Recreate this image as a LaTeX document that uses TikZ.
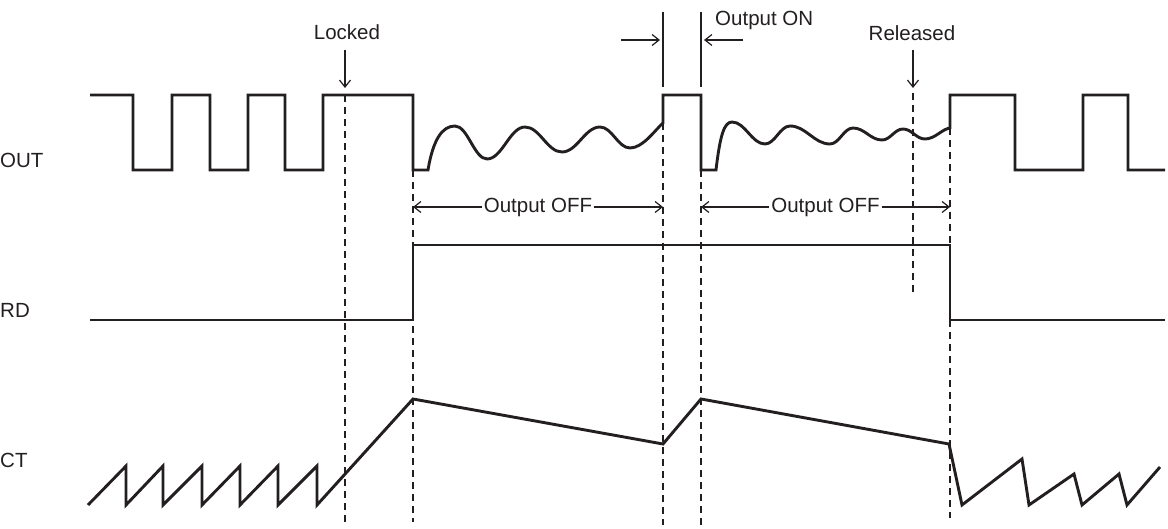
\documentclass[tikz,border=0pt]{standalone}
\usepackage{fontspec}
\setmainfont{Liberation Sans}
\usetikzlibrary{arrows.meta}
\definecolor{ink}{HTML}{231F20}
\begin{document}
\begin{tikzpicture}[x=1pt,y=-1pt,
  wave/.style={draw=ink,line width=2.9pt,line join=miter},
  thin/.style={draw=ink,line width=1.2pt},
  guide/.style={draw=ink,line width=1.3pt,dash pattern=on 7pt off 5pt},
  tip/.style={-{Straight Barb[length=7pt,width=11pt,line width=1.2pt]}},
  lbl/.style={text=ink,inner sep=0pt,font=\fontsize{20.5}{24}\selectfont},
  gaplbl/.style={lbl,fill=white,inner xsep=2pt,inner ysep=3pt}]
\useasboundingbox (0,0) rectangle (1168,529);
% signal names
\node[lbl,anchor=base west] (out) at (0,167.5) {OUT};
\node[lbl,anchor=base west] (rd) at (0,317.5) {RD};
\node[lbl,anchor=base west] (ct) at (0,467.5) {CT};
% dashed guides
\coordinate (g1t) at (345,95);  \coordinate (g1b) at (345,522);
\coordinate (g2t) at (413,170); \coordinate (g2b) at (413,522);
\coordinate (g3t) at (663,123); \coordinate (g3b) at (663,525);
\coordinate (g4t) at (701,170); \coordinate (g4b) at (701,525);
\coordinate (g5t) at (950,128); \coordinate (g5b) at (950,518);
\coordinate (g6t) at (913,93);  \coordinate (g6b) at (913,293);
\draw[guide] (g1t) -- (g1b);
\draw[guide] (g2t) -- (g2b);
\draw[guide] (g3t) -- (g3b);
\draw[guide] (g4t) -- (g4b);
\draw[guide] (g5t) -- (g5b);
\draw[guide] (g6t) -- (g6b);
% OUT waveform
\draw[wave] (90,95)--(133,95)--(133,170)--(172,170)--(172,95)--(210,95)--(210,170)
  --(248,170)--(248,95)--(285,95)--(285,170)--(323,170)--(323,95)--(413,95)--(413,170)--(428,170)
  .. controls (433,140) and (442,126) .. (455,126)
  .. controls (467.8,126) and (474.2,159) .. (487,159)
  .. controls (502.2,159) and (509.8,127) .. (525,127)
  .. controls (539.8,127) and (547.2,152) .. (562,152)
  .. controls (577.2,152) and (584.8,127) .. (600,127)
  .. controls (612,127) and (618,148) .. (630,148)
  .. controls (643,148) and (655,130) .. (663,123)
  --(663,95)--(701,95)--(701,170)--(716,170)
  .. controls (720,136) and (724,122) .. (732,122)
  .. controls (745.2,122) and (751.8,144) .. (765,144)
  .. controls (775,144) and (780,126) .. (790,126)
  .. controls (806,126) and (814,144) .. (830,144)
  .. controls (839.2,144) and (843.8,128) .. (853,128)
  .. controls (864.6,128) and (870.4,140) .. (882,140)
  .. controls (890.4,140) and (894.6,129) .. (903,129)
  .. controls (911.8,129) and (916.2,139) .. (925,139)
  .. controls (935,139) and (942,129) .. (950,128)
  --(950,95)--(1015,95)--(1015,170)--(1083,170)--(1083,95)--(1128,95)--(1128,170)--(1165,170);
% RD waveform
\draw[wave] (90,320)--(413,320)--(413,245)--(950,245)--(950,320)--(1165,320);
% CT waveform
\draw[wave] (88,505)--(126,466)--(126,505)--(163,466)--(163,505)--(202,466)--(202,505)
  --(240,466)--(240,505)--(278,466)--(278,505)--(317,466)--(317,505)--(413,399)--(663,444)
  --(701,399)--(949,444)--(962,505)--(1022,459)--(1029,505)--(1074,474)--(1082,505)
  --(1119,474)--(1127,505)--(1160,467);
% Locked
\node[lbl,anchor=base] (locked) at (347,39.5) {Locked};
\coordinate (la) at (345,50); \coordinate (lb) at (345,88);
\draw[thin,tip] (la) -- (lb);
% Released
\node[lbl,anchor=base] (released) at (912,40.5) {Released};
\coordinate (ra) at (913,50); \coordinate (rb) at (913,88);
\draw[thin,tip] (ra) -- (rb);
% Output ON
\coordinate (e1t) at (663,12); \coordinate (e1b) at (663,87);
\coordinate (e2t) at (701,12); \coordinate (e2b) at (701,87);
\draw[thin] (e1t) -- (e1b);
\draw[thin] (e2t) -- (e2b);
\coordinate (oa) at (621,40); \coordinate (ob) at (660,40);
\coordinate (oc) at (743,40); \coordinate (od) at (704,40);
\draw[thin,tip] (oa) -- (ob);
\draw[thin,tip] (oc) -- (od);
\node[lbl,anchor=base west] (outon) at (715,25.5) {Output ON};
% Output OFF spans
\coordinate (f1a) at (413,207); \coordinate (f1b) at (663,207);
\coordinate (f2a) at (701,207); \coordinate (f2b) at (950,207);
\draw[thin,{Straight Barb[length=7pt,width=11pt,line width=1.2pt]}-{Straight Barb[length=7pt,width=11pt,line width=1.2pt]}]
  (f1a) -- node[gaplbl] (off1) {Output OFF} (f1b);
\draw[thin,{Straight Barb[length=7pt,width=11pt,line width=1.2pt]}-{Straight Barb[length=7pt,width=11pt,line width=1.2pt]}]
  (f2a) -- node[gaplbl] (off2) {Output OFF} (f2b);
\end{tikzpicture}
\end{document}
